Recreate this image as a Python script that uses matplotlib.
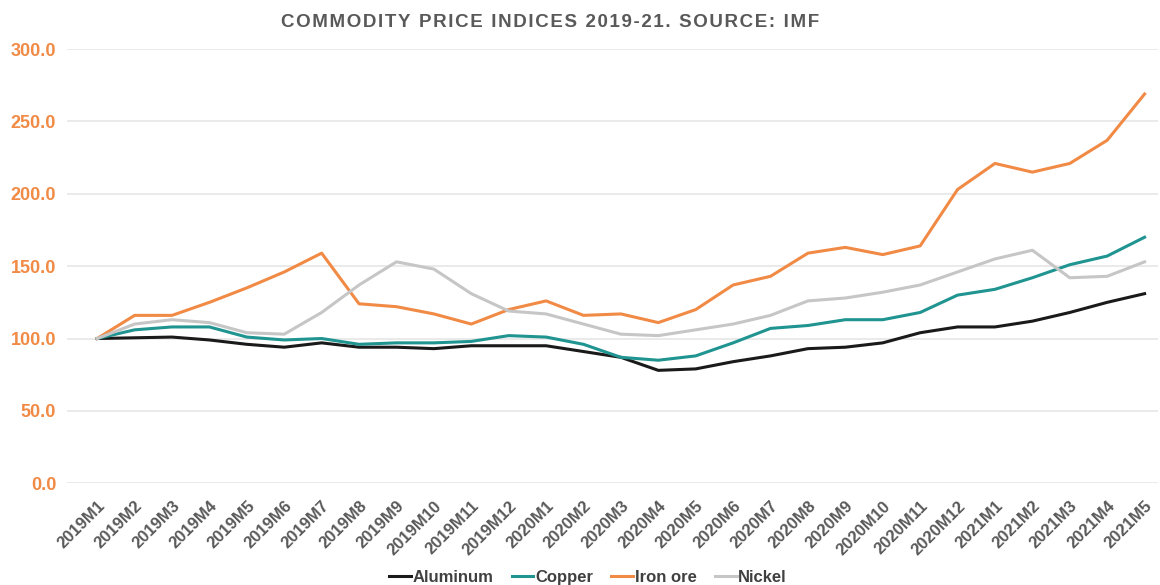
import matplotlib.pyplot as plt

# Data (index, 2019M1 = 100)
months = ['2019M1', '2019M2', '2019M3', '2019M4', '2019M5', '2019M6', '2019M7',
          '2019M8', '2019M9', '2019M10', '2019M11', '2019M12', '2020M1', '2020M2',
          '2020M3', '2020M4', '2020M5', '2020M6', '2020M7', '2020M8', '2020M9',
          '2020M10', '2020M11', '2020M12', '2021M1', '2021M2', '2021M3', '2021M4',
          '2021M5']
aluminum = [100, 100.5, 101, 99, 96, 94, 97, 94, 94, 93, 95, 95, 95, 91, 87, 78,
            79, 84, 88, 93, 94, 97, 104, 108, 108, 112, 118, 125, 131]
copper = [100, 106, 108, 108, 101, 99, 100, 96, 97, 97, 98, 102, 101, 96, 87, 85,
          88, 97, 107, 109, 113, 113, 118, 130, 134, 142, 151, 157, 170]
iron_ore = [100, 116, 116, 125, 135, 146, 159, 124, 122, 117, 110, 120, 126, 116,
            117, 111, 120, 137, 143, 159, 163, 158, 164, 203, 221, 215, 221, 237, 269]
nickel = [100, 110, 113, 111, 104, 103, 118, 137, 153, 148, 131, 119, 117, 110,
          103, 102, 106, 110, 116, 126, 128, 132, 137, 146, 155, 161, 142, 143, 153]

title = 'COMMODITY PRICE INDICES 2019-21. SOURCE: IMF'

plt.rcParams['font.family'] = ['Liberation Sans', 'DejaVu Sans']

fig = plt.figure(figsize=(11.6, 5.85), dpi=100)
ax = fig.add_axes([0.058, 0.174, 0.94, 0.742])

x = range(len(months))
ax.plot(x, aluminum, color='#1a1a1a', lw=2.2, label='Aluminum')
ax.plot(x, copper, color='#1f9490', lw=2.2, label='Copper')
ax.plot(x, iron_ore, color='#f08a45', lw=2.2, label='Iron ore')
ax.plot(x, nickel, color='#c6c6c6', lw=2.2, label='Nickel')

ax.set_ylim(0, 300)
ax.set_xlim(-0.8, 28.35)
ax.set_yticks(range(0, 301, 50))
ax.set_yticklabels([f'{v:.1f}' for v in range(0, 301, 50)],
                   color='#f08a45', fontsize=13, fontweight='bold')
ax.set_xticks(list(x))
ax.set_xticklabels(months, rotation=45, ha='right', va='top', rotation_mode='anchor',
                   color='#595959', fontsize=12, fontweight='bold')
ax.tick_params(length=0, axis='both')
ax.tick_params(axis='y', pad=8)
ax.tick_params(axis='x', pad=11)
ax.grid(axis='y', color='#e6e6e6', lw=1.2)
ax.set_axisbelow(True)
for s in ax.spines.values():
    s.set_visible(False)

# letter-spaced title
spaced = '\u200a'.join(title)
fig.text(0.474, 0.962, spaced, ha='center', va='center', fontsize=13.5,
         fontweight='bold', color='#595959')

leg = fig.legend(loc='center', bbox_to_anchor=(0.507, 0.013), ncol=4, frameon=False,
                 handlelength=1.3, handletextpad=0.1, columnspacing=1.1,
                 prop={'size': 12, 'weight': 'bold'})
for t in leg.get_texts():
    t.set_color('#404040')

fig.savefig('out.png', dpi=100)
